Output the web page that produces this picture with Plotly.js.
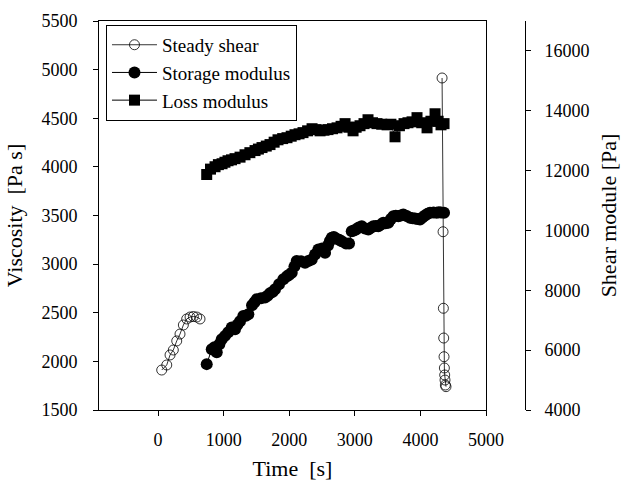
<!DOCTYPE html>
<html>
<head>
<meta charset="utf-8">
<script src="https://cdn.plot.ly/plotly-3.0.1.min.js"></script>
<style>html,body{margin:0;padding:0;background:#fff;}#chart{width:626px;height:485px;}</style>
</head>
<body>
<div id="chart"></div>
<script>
// Steady shear viscosity [Pa s] (left axis); null separates the two measurement runs
const steadyTime = [56, 133, 183, 233, 285, 335, 386, 437, 488, 538, 590, 640, null,
  4330, 4345, 4350, 4355, 4360, 4365, 4370, 4375, 4380, 4390];
const steadyVisc = [1911, 1963, 2066, 2117, 2210, 2281, 2374, 2436, 2456, 2461, 2456, 2436, null,
  4914, 3333, 2546, 2240, 2048, 1932, 1860, 1808, 1757, 1740];

// Storage modulus [Pa] (right axis)
const storageTime = [742, 819, 860, 895, 935, 971, 1021, 1070, 1123, 1174, 1210, 1250, 1300, 1340, 1377,
  1433, 1470, 1505, 1570, 1631, 1670, 1707, 1750, 1784, 1845, 1910, 1966, 2000, 2038, 2080, 2114,
  2180, 2241, 2290, 2343, 2393, 2444, 2500, 2546, 2591, 2620, 2648, 2680, 2713, 2760, 2800, 2866,
  2912, 2953, 2985, 3018, 3060, 3105, 3155, 3206, 3245, 3282, 3320, 3358, 3400, 3434, 3470, 3511,
  3550, 3587, 3625, 3663, 3700, 3739, 3790, 3841, 3880, 3918, 3955, 3994, 4030, 4070, 4110, 4146,
  4200, 4248, 4280, 4314, 4360];
const storageMod = [5533, 6033, 6100, 5933, 6200, 6367, 6477, 6600, 6757, 6700, 6850, 6967, 7143, 7150, 7200,
  7500, 7600, 7700, 7733, 7757, 7820, 7900, 7950, 8033, 8200, 8367, 8467, 8520, 8590, 8800, 8977,
  8967, 8923, 8980, 9033, 9200, 9367, 9400, 9257, 9500, 9650, 9757, 9780, 9733, 9690, 9643, 9567,
  9567, 9977, 10000, 10033, 10100, 10143, 10067, 10033, 10090, 10143, 10150, 10143, 10200, 10257, 10240, 10257,
  10380, 10477, 10490, 10477, 10500, 10533, 10480, 10423, 10410, 10400, 10380, 10367, 10430, 10500, 10560, 10590,
  10600, 10590, 10610, 10600, 10590];

// Loss modulus [Pa] (right axis)
const lossTime = [742, 800, 869, 920, 976, 1020, 1067, 1120, 1174, 1250, 1326, 1400, 1479, 1530, 1585,
  1650, 1707, 1770, 1829, 1900, 1966, 2030, 2088, 2150, 2210, 2280, 2348, 2410, 2470, 2530, 2591,
  2660, 2729, 2790, 2851, 2910, 2973, 3020, 3079, 3140, 3201, 3270, 3338, 3410, 3491, 3550, 3613,
  3680, 3750, 3810, 3872, 3948, 4020, 4101, 4160, 4223, 4270, 4314, 4360];
const lossMod = [11870, 12050, 12130, 12200, 12230, 12280, 12330, 12360, 12400, 12450, 12530, 12600, 12670, 12720, 12770,
  12820, 12870, 12950, 13030, 13070, 13100, 13150, 13200, 13230, 13270, 13330, 13400, 13370, 13330, 13350, 13370,
  13400, 13430, 13480, 13570, 13450, 13330, 13450, 13500, 13570, 13700, 13600, 13570, 13550, 13530, 13550, 13130,
  13500, 13570, 13600, 13630, 13770, 13600, 13430, 13650, 13900, 13650, 13530, 13570];

// Tick labels
const xTicks = [0, 1000, 2000, 3000, 4000, 5000];
const yTicks = [1500, 2000, 2500, 3000, 3500, 4000, 4500, 5000, 5500];
const y2Ticks = [4000, 6000, 8000, 10000, 12000, 14000, 16000];

const FONT = 'Liberation Serif, Times New Roman, serif';

const traces = [
  {
    x: steadyTime, y: steadyVisc, name: 'Steady shear', type: 'scatter', mode: 'lines+markers',
    connectgaps: false, yaxis: 'y',
    line: {color: '#000', width: 0.8},
    marker: {symbol: 'circle-open', size: 10, color: '#000', line: {width: 0.8, color: '#000'}}
  },
  {
    x: storageTime, y: storageMod, name: 'Storage modulus', type: 'scatter', mode: 'lines+markers',
    yaxis: 'y2',
    line: {color: '#000', width: 1},
    marker: {symbol: 'circle', size: 12, color: '#000'}
  },
  {
    x: lossTime, y: lossMod, name: 'Loss modulus', type: 'scatter', mode: 'lines+markers',
    yaxis: 'y2',
    line: {color: '#000', width: 1},
    marker: {symbol: 'square', size: 11, color: '#000'}
  }
];

const layout = {
  width: 626, height: 485,
  margin: {l: 99, r: 101, t: 21, b: 75, pad: 0},
  paper_bgcolor: '#fff', plot_bgcolor: '#fff',
  font: {family: FONT, size: 18, color: '#000'},
  showlegend: true,
  legend: {
    x: 0.0164, y: 0.99, xanchor: 'left', yanchor: 'top',
    bgcolor: '#fff', bordercolor: '#000', borderwidth: 1,
    font: {family: FONT, size: 19, color: '#000'},
    itemwidth: 45,
    tracegroupgap: 0
  },
  xaxis: {
    domain: [0, 0.9085], range: [-900, 5000],
    tickmode: 'array', tickvals: xTicks, ticktext: xTicks.map(String),
    showgrid: false, zeroline: false,
    showline: true, linecolor: '#000', linewidth: 1, mirror: true,
    ticks: 'outside', ticklen: 5, tickcolor: '#000', tickwidth: 1,
    ticklabelstandoff: 8,
    title: {text: 'Time  [s]', font: {family: FONT, size: 22, color: '#000'}, standoff: 12}
  },
  yaxis: {
    range: [1500, 5500],
    tickmode: 'array', tickvals: yTicks, ticktext: yTicks.map(String),
    showgrid: false, zeroline: false,
    showline: true, linecolor: '#000', linewidth: 1, mirror: true,
    ticks: 'outside', ticklen: 5, tickcolor: '#000', tickwidth: 1,
    ticklabelstandoff: 12,
    title: {text: 'Viscosity  [Pa s]', font: {family: FONT, size: 22, color: '#000'}, standoff: 12}
  },
  yaxis2: {
    overlaying: 'y', side: 'right', anchor: 'free', position: 1,
    range: [4000, 17000],
    tickmode: 'array', tickvals: y2Ticks, ticktext: y2Ticks.map(String),
    showgrid: false, zeroline: false,
    showline: true, linecolor: '#000', linewidth: 1,
    ticks: 'outside', ticklen: 5, tickcolor: '#000', tickwidth: 1,
    ticklabelstandoff: 10,
    title: {text: 'Shear module [Pa]', font: {family: FONT, size: 22, color: '#000'}, standoff: 12}
  }
};

Plotly.newPlot('chart', traces, layout, {displayModeBar: false, staticPlot: true});
</script>
</body>
</html>
